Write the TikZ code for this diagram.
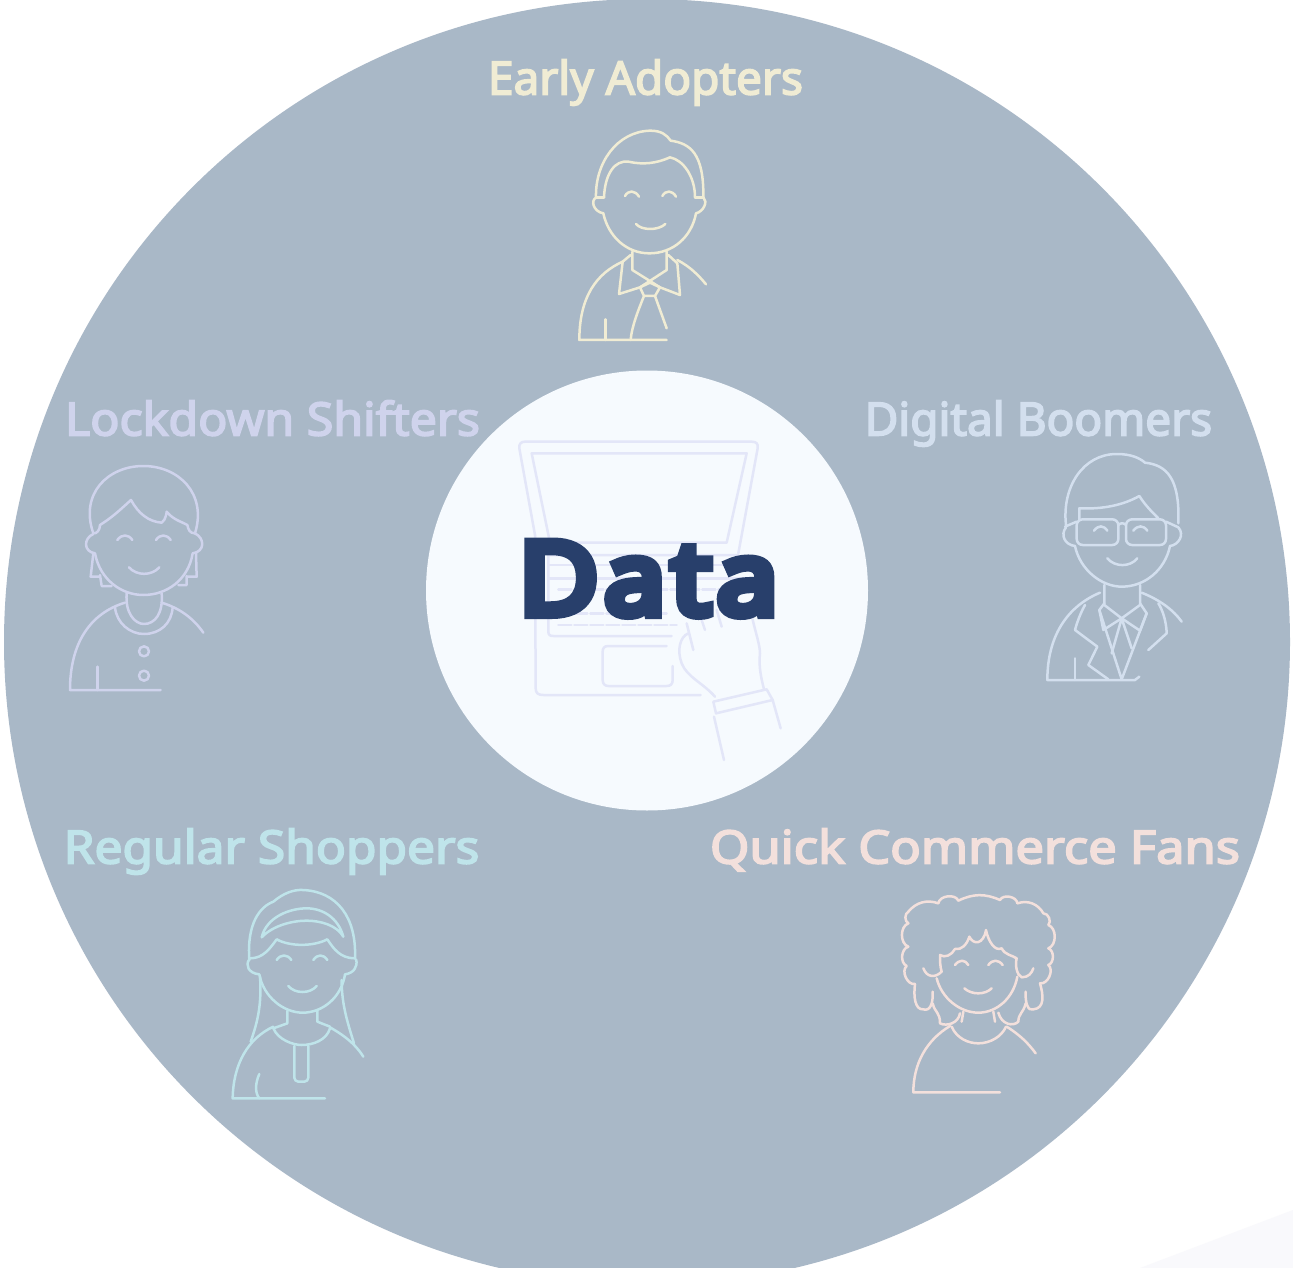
\documentclass[tikz,border=0pt]{standalone}
\usepackage{fontspec}
\setmainfont{Noto Sans}
\newfontfamily\labelf[FakeBold=3.5]{Noto Sans}
\newfontfamily\dataf[FakeBold=10,LetterSpace=6]{Noto Sans}
\definecolor{ringc}{HTML}{A9B8C7}
\definecolor{corec}{HTML}{F6FAFE}
\definecolor{datac}{HTML}{283F6B}
\definecolor{lapc}{HTML}{E3E6F8}
\definecolor{earlyc}{HTML}{F0ECD4}
\definecolor{lockc}{HTML}{CFD3EC}
\definecolor{digic}{HTML}{D3DFEE}
\definecolor{regc}{HTML}{BFE4EA}
\definecolor{quickc}{HTML}{F3E0DC}
\definecolor{cornerc}{HTML}{F9F9FC}
\tikzset{
  label/.style={inner sep=0pt,anchor=base,font=\labelf\fontsize{46}{46}\selectfont},
  icon/.style={line width=2.5pt,line cap=round,line join=round,x=0.33333pt,y=-0.33333pt},
}
\begin{document}
\begin{tikzpicture}[x=1pt,y=-1pt]
\clip (0,0) rectangle (1293,1268);
\fill[white] (0,0) rectangle (1293,1268);
\fill[cornerc] (1140,1268) -- (1293,1210) -- (1293,1268) -- cycle;
\fill[ringc] (647,642) circle [radius=643pt];
\fill[corec] (647,590.5) ellipse [x radius=221pt,y radius=220pt];

% laptop
\begin{scope}[shift={(490,420)},icon,draw=lapc]
\draw (135,345) -- (88,85) .. controls (86,70) and (95,65) .. (105,65) -- (785,65) .. controls (800,65) and (805,72) .. (803,85) -- (745,400);
\draw (125,100) -- (770,100) -- (710,368) -- (180,368) -- cycle;
\draw (135,345) -- (137,805) .. controls (137,820) and (145,825) .. (160,825) -- (632,825);
\draw (175,405) -- (745,405) (175,405) -- (175,635) .. controls (175,645) and (180,648) .. (190,648) -- (545,648);
\draw (175,435) -- (740,435) (175,475) -- (760,475);
\draw[dash pattern=on 13pt off 3pt] (205,508) -- (690,508) (205,580) -- (530,580) (205,615) -- (560,615);
\draw (530,678) -- (355,678) .. controls (342,678) and (338,685) .. (338,695) -- (338,780) .. controls (338,792) and (345,798) .. (355,798) -- (530,798) .. controls (542,798) and (548,792) .. (548,780) -- (548,738);
\draw (595,640) .. controls (570,650) and (560,690) .. (575,730) .. controls (590,770) and (640,790) .. (675,830);
\draw (670,845) -- (830,808) -- (848,840) -- (678,880) -- cycle;
\draw (672,890) -- (702,1020) (848,840) -- (872,925);
\draw (780,560) .. controls (790,620) and (810,670) .. (810,700) .. controls (805,740) and (815,780) .. (822,808);
\draw (590,610) -- (610,690) (680,570) -- (695,620) (625,570) -- (645,630);
\end{scope}

% Early Adopters
\node[label,text=earlyc] (early) at (645.5,94.5) {Early Adopters};
\begin{scope}[shift={(540,110)},icon,draw=earlyc]
\draw (168,262) .. controls (165,160) and (230,65) .. (330,62) .. controls (365,62) and (380,75) .. (392,92) .. controls (450,100) and (492,130) .. (490,262);
\draw (192,262) .. controls (195,190) and (225,150) .. (265,155) .. controls (310,165) and (350,160) .. (390,142) .. controls (430,150) and (465,200) .. (465,262);
\draw (168,262) -- (192,262) (465,262) -- (490,262);
\draw (170,262) .. controls (150,270) and (160,305) .. (190,310) .. controls (205,380) and (260,430) .. (328,430) .. controls (400,430) and (455,380) .. (468,310) .. controls (490,305) and (505,275) .. (490,262);
\draw (255,258) .. controls (265,240) and (285,240) .. (297,260) (367,258) .. controls (377,240) and (397,240) .. (408,260);
\draw (288,342) .. controls (305,362) and (355,362) .. (376,342);
\draw (277,425) -- (277,480) -- (360,532) (380,425) -- (380,480) -- (300,532);
\draw (272,435) -- (248,455) -- (237,552) -- (300,532) -- (330,518) -- (360,532) -- (420,555) -- (412,460) -- (385,435);
\draw (300,532) -- (312,558) -- (345,558) -- (360,532);
\draw (312,558) .. controls (295,600) and (275,650) .. (272,690) (345,558) -- (380,655);
\draw (248,455) .. controls (170,490) and (118,560) .. (118,690) -- (380,690);
\draw (412,450) .. controls (450,470) and (475,495) .. (498,523);
\draw (197,628) -- (197,690);
\end{scope}

% Digital Boomers
\node[label,text=digic] (digital) at (1038.5,435.5) {Digital Boomers};
\begin{scope}[shift={(1020,440)},icon,draw=digic]
\draw (138,255) .. controls (125,140) and (190,42) .. (290,42) .. controls (335,42) and (360,55) .. (375,68) .. controls (440,75) and (480,115) .. (475,250);
\draw (178,240) -- (178,205) .. controls (250,208) and (310,195) .. (358,168) .. controls (375,195) and (395,215) .. (415,235);
\draw[rounded corners=6pt] (170,238) rectangle (295,315) (318,238) rectangle (438,315);
\draw (295,255) .. controls (303,248) and (310,248) .. (318,255) (170,245) -- (135,260) (438,245) -- (475,262);
\draw (138,262) .. controls (120,285) and (135,315) .. (165,318) .. controls (180,390) and (245,440) .. (305,440) .. controls (375,440) and (435,390) .. (450,318) .. controls (475,315) and (495,285) .. (475,262);
\draw (222,272) .. controls (235,255) and (250,255) .. (262,272) (340,272) .. controls (353,255) and (370,255) .. (382,272);
\draw (262,355) .. controls (285,382) and (330,382) .. (352,355);
\draw (253,435) -- (253,495) -- (305,535) -- (360,495) -- (360,435);
\draw (253,490) -- (238,510) -- (250,570) -- (305,535) -- (360,572) -- (380,520) -- (360,490);
\draw (238,510) -- (305,718) -- (380,520);
\draw (305,535) -- (275,640) (305,535) -- (335,625);
\draw (240,458) .. controls (140,500) and (82,590) .. (82,720) -- (345,720) -- (358,710);
\draw (165,655) -- (165,720);
\draw (195,495) .. controls (175,530) and (165,570) .. (165,570) -- (232,620) -- (205,675) -- (265,718);
\draw (415,490) .. controls (440,530) and (440,580) .. (440,580) -- (385,630);
\draw (365,458) .. controls (420,480) and (460,510) .. (485,545);
\end{scope}

% Lockdown Shifters
\node[label,text=lockc,xscale=1.05] (lockdown) at (272.5,435.5) {Lockdown Shifters};
\begin{scope}[shift={(50,450)},icon,draw=lockc]
\draw (130,250) .. controls (88,130) and (175,48) .. (280,48) .. controls (385,48) and (472,130) .. (435,250);
\draw (130,250) .. controls (140,252) and (150,240) .. (150,225) .. controls (190,200) and (215,175) .. (243,150) .. controls (265,190) and (295,215) .. (335,218) .. controls (348,210) and (350,185) .. (350,185) .. controls (370,210) and (395,215) .. (412,225) .. controls (415,240) and (420,250) .. (435,250);
\draw (130,252) .. controls (100,265) and (100,305) .. (135,310) .. controls (150,390) and (215,435) .. (280,435) .. controls (350,435) and (415,390) .. (428,310) .. controls (465,305) and (465,265) .. (435,250);
\draw (130,310) -- (122,380) -- (150,380) (150,375) -- (155,408) -- (185,408);
\draw (438,310) -- (440,380) -- (412,380) (410,378) -- (410,405) -- (385,405);
\draw (202,270) .. controls (215,252) and (235,252) .. (247,270) (318,270) .. controls (330,252) and (350,252) .. (362,270);
\draw (237,352) .. controls (260,378) and (305,378) .. (328,352);
\draw (230,430) .. controls (225,490) and (255,522) .. (282,522) .. controls (315,522) and (340,490) .. (335,430);
\draw (195,472) .. controls (200,520) and (240,552) .. (282,552) .. controls (330,552) and (365,520) .. (368,472);
\draw (225,458) .. controls (120,490) and (60,580) .. (60,720) -- (332,720);
\draw (335,458) .. controls (390,475) and (430,505) .. (460,548);
\draw (142,650) -- (142,720);
\draw (282,604) circle [radius=5pt] (282,677) circle [radius=5pt];
\end{scope}

% Regular Shoppers
\node[label,text=regc,xscale=1.08] (regular) at (271.5,863.5) {Regular Shoppers};
\begin{scope}[shift={(210,880)},icon,draw=regc]
\draw (118,240) .. controls (110,130) and (150,80) .. (190,65) .. controls (220,40) and (250,28) .. (280,30) .. controls (380,35) and (440,110) .. (435,235);
\draw (155,172) .. controls (170,110) and (240,85) .. (290,85) .. controls (340,85) and (385,115) .. (400,170) .. controls (380,135) and (330,122) .. (290,122) .. controls (250,122) and (190,135) .. (155,172);
\draw (120,235) .. controls (160,235) and (180,205) .. (200,178) .. controls (240,200) and (310,200) .. (352,178) .. controls (370,205) and (390,235) .. (435,235);
\draw (118,238) .. controls (105,255) and (115,280) .. (148,283) .. controls (160,350) and (220,398) .. (278,398) .. controls (340,398) and (395,350) .. (405,283) .. controls (430,280) and (445,260) .. (438,238);
\draw (200,240) .. controls (212,222) and (232,222) .. (244,240) (310,240) .. controls (322,222) and (340,222) .. (352,240);
\draw (235,318) .. controls (255,342) and (300,342) .. (320,318);
\draw (190,445) -- (232,430) -- (232,392) (360,440) -- (322,425) -- (322,392);
\draw (190,445) .. controls (205,480) and (250,495) .. (275,495) .. controls (310,495) and (350,480) .. (360,445);
\draw (150,290) .. controls (155,370) and (145,420) .. (122,485) (395,300) .. controls (395,370) and (410,420) .. (432,490);
\draw (190,440) .. controls (115,475) and (70,550) .. (68,655) -- (345,655);
\draw (360,442) .. controls (400,465) and (435,490) .. (460,530);
\draw[rounded corners=4pt] (253,498) -- (253,605) -- (295,605) -- (295,498);
\draw (148,582) .. controls (135,610) and (135,640) .. (148,655);
\end{scope}

% Quick Commerce Fans
\node[label,text=quickc,xscale=1.10] (quick) at (975,863.5) {Quick Commerce Fans};
\begin{scope}[shift={(880,880)},icon,draw=quickc]
\draw (105,312) to[bend left=75] (80,258) to[bend left=70] (85,200) to[bend left=70] (85,130) to[bend left=60] (85,95) to[bend left=35] (175,70) to[bend left=75] (235,62) to[bend left=25] (360,60) to[bend left=75] (412,70) to[bend left=40] (490,100) to[bend left=70] (505,135) to[bend left=70] (505,205) to[bend left=70] (505,255) to[bend left=75] (480,310);
\draw (105,312) .. controls (100,350) and (105,390) .. (130,388) .. controls (150,395) and (160,370) .. (158,335);
\draw (158,370) .. controls (165,400) and (180,395) .. (180,430) .. controls (200,440) and (235,430) .. (240,400);
\draw (480,310) .. controls (490,345) and (495,385) .. (460,388) .. controls (445,395) and (435,370) .. (437,335);
\draw (437,370) .. controls (430,400) and (415,400) .. (415,425) .. controls (400,440) and (365,435) .. (355,398);
\draw (130,265) .. controls (140,292) and (165,295) .. (185,275) .. controls (180,260) and (180,240) .. (180,225) .. controls (195,235) and (215,225) .. (225,207) .. controls (245,210) and (260,195) .. (268,170) .. controls (280,195) and (310,195) .. (318,150) .. controls (325,185) and (345,215) .. (365,205) .. controls (375,225) and (395,225) .. (410,235) .. controls (405,255) and (410,285) .. (425,292) .. controls (445,292) and (455,280) .. (460,265);
\draw (170,295) .. controls (185,355) and (240,398) .. (295,398) .. controls (350,398) and (400,355) .. (412,290);
\draw (250,395) -- (245,425) (340,395) -- (345,425);
\draw (225,255) .. controls (238,238) and (255,238) .. (265,255) (325,255) .. controls (338,238) and (355,238) .. (368,255);
\draw (253,325) .. controls (275,345) and (315,345) .. (335,325);
\draw (215,440) .. controls (230,475) and (265,490) .. (295,490) .. controls (330,490) and (365,470) .. (378,440);
\draw (210,438) .. controls (140,480) and (100,550) .. (100,637) -- (360,637);
\draw (380,440) .. controls (420,465) and (445,490) .. (467,520);
\end{scope}

\node[inner sep=0pt,anchor=base,text=datac,font=\dataf\fontsize{100}{100}\selectfont,xscale=1.08] (data) at (648.5,614) {Data};
\end{tikzpicture}
\end{document}
